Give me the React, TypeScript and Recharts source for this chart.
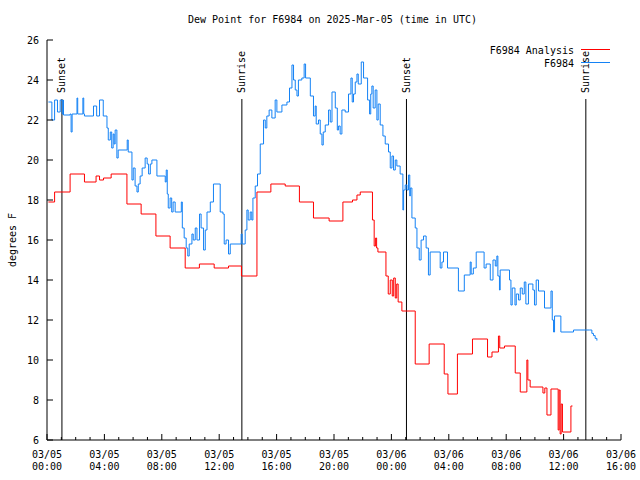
import React from 'react';
import { LineChart, Line, XAxis, YAxis, ReferenceLine, Legend } from 'recharts';

const FONT = "'DejaVu Sans Mono', monospace";

// [hour since 03/05 00:00 UTC, dew point F]
const analysisPts: [number, number][] = [
  [0.1, 17.9], [0.53, 18.4], [1.61, 19.3], [2.61, 18.9], [3.42, 19.2], [3.66, 19.0], [3.94, 19.1],
  [4.47, 19.3], [5.57, 17.8], [6.56, 17.3], [7.59, 16.2], [8.58, 15.6], [9.63, 14.6], [10.62, 14.8],
  [11.65, 14.6], [12.65, 14.7], [13.55, 14.2], [14.63, 18.4], [15.6, 18.8], [16.6, 18.7], [17.59, 17.9],
  [18.57, 17.1], [19.66, 16.95], [20.62, 17.9], [21.29, 18.0], [21.6, 18.25], [21.83, 18.4],
  [22.68, 17.0], [22.8, 15.7], [22.9, 16.1], [22.97, 15.6], [23.06, 15.4], [23.62, 14.2], [23.78, 13.3],
  [23.92, 14.0], [24.06, 13.2], [24.16, 14.1], [24.27, 13.1], [24.37, 13.8], [24.47, 12.9], [24.73, 12.45],
  [25.66, 9.8], [26.63, 10.8], [27.68, 9.3], [27.94, 8.3], [28.6, 10.3], [29.65, 11.05], [30.7, 10.15],
  [31.01, 10.4], [31.46, 11.2], [31.55, 10.6], [31.88, 10.7], [32.63, 9.35], [32.98, 8.4], [33.44, 10.0],
  [33.51, 9.0], [33.67, 8.65], [34.56, 8.35], [34.69, 8.6], [34.84, 7.25], [35.12, 8.55], [35.62, 6.5],
  [35.69, 8.5], [35.76, 6.3], [35.83, 7.8], [35.92, 6.4], [36.51, 7.7], [36.62, 7.7],
];

const stationPts: [number, number][] = [
  [0.1, 22.9], [0.34, 22.0], [0.53, 23.0], [0.73, 22.4], [0.92, 23.0], [1.06, 22.3], [1.13, 23.0],
  [1.15, 22.25], [1.61, 22.3], [1.68, 21.4], [1.75, 22.3], [2.09, 23.1], [2.14, 22.3], [2.5, 23.1],
  [2.56, 22.3], [2.61, 22.2], [3.24, 22.7], [3.46, 22.2], [3.66, 23.0], [3.92, 22.2], [4.18, 21.6],
  [4.27, 21.0], [4.41, 21.4], [4.51, 20.6], [4.61, 21.3], [4.68, 20.8], [4.75, 21.5], [4.87, 20.1],
  [4.96, 20.5], [5.59, 21.0], [5.66, 20.4], [5.92, 19.0], [6.01, 19.6], [6.14, 18.7], [6.27, 18.4],
  [6.36, 18.8], [6.49, 19.2], [6.63, 19.6], [6.84, 20.1], [6.98, 19.8], [7.08, 19.3], [7.2, 19.8],
  [7.31, 20.0], [7.66, 19.2], [8.24, 18.9], [8.31, 19.5], [8.38, 18.3], [8.45, 17.6], [8.58, 18.1],
  [8.69, 17.4], [8.79, 17.9], [8.93, 17.4], [9.36, 17.9], [9.43, 16.6], [9.56, 16.1], [9.7, 15.6],
  [9.81, 15.2], [9.91, 15.8], [10.1, 16.3], [10.19, 16.0], [10.33, 16.6], [10.45, 16.0], [10.63, 17.3],
  [10.74, 16.6], [10.91, 15.5], [11.03, 16.5], [11.15, 17.4], [11.38, 17.9], [11.6, 18.8], [12.07, 17.4],
  [12.26, 17.3], [12.35, 15.8], [12.48, 16.0], [12.65, 15.3], [12.77, 15.8], [13.53, 16.3], [13.6, 15.8],
  [13.81, 16.5], [13.93, 17.5], [14.02, 17.0], [14.16, 17.4], [14.27, 17.0], [14.35, 18.1], [14.51, 18.7],
  [14.67, 19.3], [14.86, 20.8], [15.09, 22.0], [15.21, 21.6], [15.32, 22.2], [15.48, 22.5], [15.67, 22.1],
  [15.9, 23.0], [16.02, 22.4], [16.37, 22.75], [16.72, 22.9], [16.9, 23.6], [17.07, 24.75], [17.18, 24.0],
  [17.3, 23.5], [17.42, 23.2], [17.52, 24.0], [17.76, 24.1], [17.92, 24.8], [18.02, 24.1], [18.35, 23.2],
  [18.57, 22.2], [18.69, 22.7], [18.76, 21.8], [18.92, 22.0], [19.04, 21.3], [19.16, 20.75], [19.25, 21.4],
  [19.39, 21.75], [19.62, 22.5], [19.74, 21.9], [19.86, 23.4], [20.09, 22.6], [20.23, 21.5], [20.32, 21.7],
  [20.43, 21.3], [20.55, 22.5], [20.78, 22.4], [21.01, 23.3], [21.18, 24.1], [21.27, 22.9], [21.36, 23.3],
  [21.48, 23.9], [21.6, 24.3], [21.69, 23.8], [21.9, 24.9], [22.06, 24.1], [22.34, 23.0], [22.48, 22.3],
  [22.56, 23.3], [22.64, 23.7], [22.73, 22.6], [22.87, 23.5], [22.99, 22.0], [23.08, 22.8], [23.22, 21.75],
  [23.41, 21.2], [23.57, 20.8], [23.8, 20.4], [23.92, 19.6], [24.04, 20.2], [24.15, 19.5], [24.27, 20.0],
  [24.38, 19.7], [24.61, 19.3], [24.8, 17.5], [24.85, 18.5], [24.96, 18.75], [25.08, 18.5], [25.19, 19.25],
  [25.28, 18.2], [25.32, 18.6], [25.43, 17.1], [25.66, 16.6], [25.78, 15.6], [25.94, 15.0], [26.07, 16.0],
  [26.24, 16.2], [26.42, 15.6], [26.58, 14.25], [26.7, 15.4], [27.4, 14.6], [27.52, 14.9], [27.63, 15.4],
  [27.91, 14.6], [28.67, 13.45], [29.08, 14.25], [29.49, 14.9], [29.56, 14.3], [29.71, 14.6], [29.91, 15.4],
  [30.46, 14.6], [30.6, 14.8], [30.89, 14.0], [31.08, 15.0], [31.24, 14.7], [31.35, 15.2], [31.42, 14.2],
  [31.53, 13.5], [31.58, 14.5], [32.23, 14.0], [32.33, 12.75], [32.42, 13.6], [32.61, 12.75], [32.7, 13.3],
  [32.86, 13.0], [32.98, 13.6], [33.12, 13.3], [33.26, 13.9], [33.37, 12.8], [33.55, 13.8], [33.86, 13.5],
  [33.97, 12.75], [34.09, 14.0], [34.25, 13.45], [34.67, 12.6], [35.12, 13.45], [35.21, 12.0], [35.3, 11.4],
  [35.37, 12.2], [35.81, 11.4], [36.69, 11.5], [37.8, 11.5], [37.97, 11.33], [38.08, 11.22], [38.2, 11.08],
  [38.32, 10.97],
];

const seriesNames = ['F6984 Analysis', 'F6984'];
const seriesColors = ['#ff0000', '#1482f5'];

const sunTimes = [1.04, 13.58, 25.05, 37.55];
const sunNames = ['Sunset', 'Sunrise', 'Sunset', 'Sunrise'];

const hourTicks = Array.from({ length: 41 }, (_, i) => i);
const tickDates = ['03/05', '03/05', '03/05', '03/05', '03/05', '03/05', '03/06', '03/06', '03/06', '03/06', '03/06'];
const tickTimes = ['00:00', '04:00', '08:00', '12:00', '16:00', '20:00', '00:00', '04:00', '08:00', '12:00', '16:00'];
const yTicks = [6, 8, 10, 12, 14, 16, 18, 20, 22, 24, 26];

const analysisData = analysisPts.map(([h, v]) => ({ h, v }));
const stationData = stationPts.map(([h, v]) => ({ h, v }));

function BottomTick({ x, y, payload }: any) {
  const h = payload.value;
  const major = h % 4 === 0;
  const i = h / 4;
  return (
    <g>
      <line x1={x} y1={y} x2={x} y2={y - (major ? 6 : 3)} stroke="#000" />
      {major && (
        <text x={x} y={y} textAnchor="middle" fontFamily={FONT} fontSize={10} fill="#000">
          <tspan x={x} dy={18}>{tickDates[i]}</tspan>
          <tspan x={x} dy={12}>{tickTimes[i]}</tspan>
        </text>
      )}
    </g>
  );
}

function TopTick({ x, y, payload }: any) {
  const major = payload.value % 4 === 0;
  return <line x1={x} y1={y} x2={x} y2={y + (major ? 6 : 3)} stroke="#000" />;
}

function LeftTick({ x, y, payload }: any) {
  return (
    <g>
      <line x1={x} y1={y} x2={x + 6} y2={y} stroke="#000" />
      <text x={x - 8} y={y} dy={3.5} textAnchor="end" fontFamily={FONT} fontSize={10} fill="#000">
        {payload.value}
      </text>
    </g>
  );
}

function RightTick({ x, y }: any) {
  return <line x1={x} y1={y} x2={x - 6} y2={y} stroke="#000" />;
}

function SunLabel({ viewBox, value }: any) {
  return (
    <text
      transform={`translate(${viewBox.x},${viewBox.y - 6}) rotate(-90)`}
      textAnchor="start"
      dominantBaseline="central"
      fontFamily={FONT}
      fontSize={10}
      fill="#000"
    >
      {value}
    </text>
  );
}

function YLabel({ viewBox }: any) {
  const cx = 12;
  const cy = viewBox.y + viewBox.height / 2;
  return (
    <text transform={`translate(${cx},${cy}) rotate(-90)`} textAnchor="middle" dominantBaseline="central"
      fontFamily={FONT} fontSize={10} fill="#000">
      degrees F
    </text>
  );
}

function LegendBox() {
  return (
    <svg width={180} height={30}>
      {seriesNames.map((name, i) => (
        <g key={name}>
          <text x={134} y={11.5 + i * 13} textAnchor="end" fontFamily={FONT} fontSize={10} fill="#000">{name}</text>
          <line x1={141} x2={170} y1={7.5 + i * 13} y2={7.5 + i * 13} stroke={seriesColors[i]} />
        </g>
      ))}
    </svg>
  );
}

export default function App() {
  return (
    <div style={{ position: 'absolute', left: 0, top: 0, width: 640, height: 480, background: '#fff' }}>
      <div style={{ position: 'absolute', left: 188, top: 14, fontFamily: FONT, fontSize: 10, lineHeight: '12px', whiteSpace: 'pre' }}>
        Dew Point for F6984 on 2025-Mar-05 (time in UTC)
      </div>
      <LineChart width={640} height={480} margin={{ top: 40, right: 19, bottom: 0, left: 0 }}>
        <XAxis xAxisId="b" type="number" dataKey="h" domain={[0, 40]} ticks={hourTicks} interval={0}
          height={40} tickSize={0} tickMargin={0} tickLine={false} axisLine={{ stroke: '#000' }} tick={<BottomTick />} allowDataOverflow />
        <XAxis xAxisId="t" orientation="top" type="number" dataKey="h" domain={[0, 40]} ticks={hourTicks} interval={0}
          height={0} tickSize={0} tickMargin={0} tickLine={false} axisLine={{ stroke: '#000' }} tick={<TopTick />} allowDataOverflow />
        <YAxis yAxisId="l" type="number" domain={[6, 26]} ticks={yTicks} interval={0} width={47}
          tickSize={0} tickMargin={0} tickLine={false} axisLine={{ stroke: '#000' }} tick={<LeftTick />}
          label={{ value: 'degrees F', content: YLabel }} allowDataOverflow />
        <YAxis yAxisId="r" orientation="right" type="number" domain={[6, 26]} ticks={yTicks} interval={0} width={0}
          tickSize={0} tickMargin={0} tickLine={false} axisLine={{ stroke: '#000' }} tick={<RightTick />} allowDataOverflow />
        {sunTimes.map((t, i) => (
          <ReferenceLine key={i} xAxisId="b" yAxisId="l" segment={[{ x: t, y: 23.05 }, { x: t, y: 6 }]}
            stroke="#000" strokeWidth={1} label={{ value: sunNames[i], content: SunLabel }} />
        ))}
        <Line xAxisId="b" yAxisId="l" data={analysisData} dataKey="v" name={seriesNames[0]} type="stepAfter"
          stroke={seriesColors[0]} strokeWidth={1} dot={false} isAnimationActive={false} />
        <Line xAxisId="b" yAxisId="l" data={stationData} dataKey="v" name={seriesNames[1]} type="stepAfter"
          stroke={seriesColors[1]} strokeWidth={1} dot={false} isAnimationActive={false} />
        <Legend layout="horizontal" verticalAlign="middle" align="center"
          wrapperStyle={{ position: 'absolute', left: 440, top: 42, width: 180, height: 30 }} content={<LegendBox />} />
      </LineChart>
    </div>
  );
}
